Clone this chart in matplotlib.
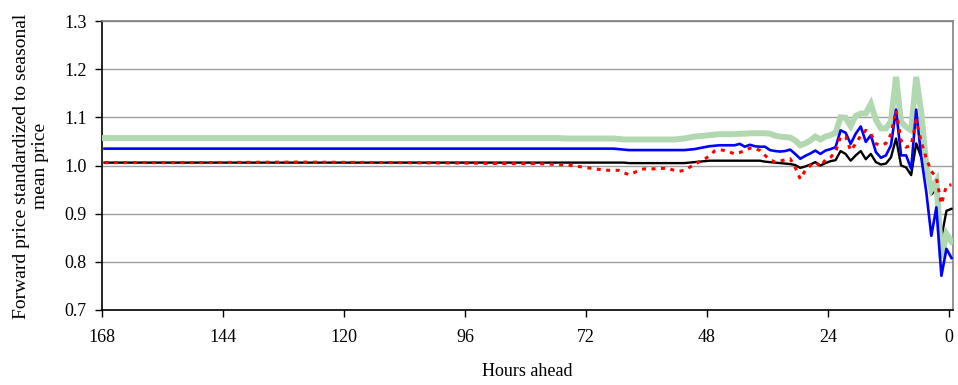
import matplotlib.pyplot as plt
import numpy as np

# hours ahead of delivery (sparse where the curves are flat, hourly near delivery)
HOURS = [168, 150, 130, 110, 96, 88, 82, 78, 76, 74, 72, 70, 69, 68, 67, 66, 65, 64] + list(range(63, -1, -1))

GREEN = [
    1.057, 1.057, 1.057, 1.057, 1.057, 1.057, 1.057, 1.057, 1.056,
    1.056, 1.056, 1.056, 1.056, 1.056, 1.056, 1.055, 1.054, 1.054,
    1.054, 1.054, 1.054, 1.054, 1.054, 1.054, 1.054, 1.054, 1.054, 1.055,
    1.056, 1.058, 1.060, 1.061, 1.062, 1.063, 1.064, 1.065, 1.065, 1.065,
    1.065, 1.066, 1.066, 1.067, 1.067, 1.067, 1.067, 1.066, 1.062, 1.060,
    1.059, 1.058, 1.052, 1.042, 1.046, 1.052, 1.060, 1.054, 1.060, 1.063,
    1.068, 1.100, 1.099, 1.082, 1.103, 1.108, 1.108, 1.128, 1.095, 1.077,
    1.077, 1.092, 1.184, 1.090, 1.080, 1.073, 1.184, 1.110, 1.000, 0.950,
    0.968, 0.808, 0.858, 0.842,
]

BLUE = [
    1.035, 1.035, 1.035, 1.035, 1.035, 1.035, 1.035, 1.035, 1.035,
    1.035, 1.035, 1.035, 1.035, 1.035, 1.035, 1.034, 1.033, 1.032,
    1.032, 1.032, 1.032, 1.032, 1.032, 1.032, 1.032, 1.032, 1.032, 1.032,
    1.032, 1.033, 1.034, 1.036, 1.038, 1.040, 1.041, 1.042, 1.042, 1.042,
    1.042, 1.045, 1.039, 1.043, 1.040, 1.039, 1.039, 1.032, 1.030, 1.029,
    1.030, 1.033, 1.024, 1.014, 1.020, 1.025, 1.031, 1.024, 1.031, 1.034,
    1.038, 1.073, 1.068, 1.045, 1.066, 1.081, 1.049, 1.063, 1.028, 1.016,
    1.021, 1.042, 1.116, 1.021, 1.021, 0.993, 1.116, 1.017, 0.945, 0.854,
    0.913, 0.771, 0.827, 0.808,
]

BLACK = [
    1.006, 1.006, 1.006, 1.006, 1.006, 1.006, 1.006, 1.006, 1.006,
    1.006, 1.006, 1.006, 1.006, 1.006, 1.006, 1.006, 1.006, 1.005,
    1.005, 1.005, 1.005, 1.005, 1.005, 1.005, 1.005, 1.005, 1.005, 1.005,
    1.005, 1.006, 1.007, 1.008, 1.009, 1.010, 1.010, 1.010, 1.010, 1.010,
    1.010, 1.010, 1.010, 1.010, 1.010, 1.010, 1.008, 1.007, 1.006, 1.005,
    1.004, 1.003, 1.001, 0.995, 0.998, 1.002, 1.007, 1.000, 1.005, 1.009,
    1.011, 1.030, 1.024, 1.010, 1.021, 1.030, 1.013, 1.024, 1.007, 1.002,
    1.004, 1.017, 1.056, 1.000, 0.996, 0.980, 1.046, 1.017, 0.990, 0.940,
    0.950, 0.850, 0.906, 0.910,
]

RED = [
    1.006, 1.006, 1.007, 1.006, 1.005, 1.004, 1.004, 1.002, 1.001,
    0.998, 0.995, 0.992, 0.991, 0.990, 0.990, 0.990, 0.985, 0.981,
    0.985, 0.990, 0.993, 0.993, 0.993, 0.994, 0.994, 0.993, 0.990, 0.988,
    0.990, 0.996, 1.002, 1.008, 1.013, 1.020, 1.030, 1.033, 1.031, 1.028,
    1.024, 1.027, 1.031, 1.036, 1.036, 1.031, 1.021, 1.012, 1.007, 1.009,
    1.012, 1.014, 0.996, 0.972, 0.990, 1.000, 1.007, 0.998, 1.012, 1.017,
    1.028, 1.060, 1.060, 1.031, 1.045, 1.062, 1.073, 1.066, 1.045, 1.042,
    1.046, 1.065, 1.115, 1.052, 1.038, 1.042, 1.094, 1.049, 1.015, 0.988,
    0.975, 0.920, 0.958, 0.960,
]

X_TICKS = [168, 144, 120, 96, 72, 48, 24, 0]
Y_TICKS = [0.7, 0.8, 0.9, 1.0, 1.1, 1.2, 1.3]

FONT = "Liberation Serif"
plt.rcParams["font.family"] = FONT

fig = plt.figure(figsize=(9.58, 3.85), dpi=100)
ax = fig.add_axes([102 / 958, 1 - 310 / 385, 851 / 958, 289 / 385])

# points sit in the middle of each hourly category, like the spreadsheet chart
x = np.array(HOURS) - 0.5

ax.plot(x, BLACK, color="black", lw=1.7, zorder=3)
ax.plot(x, GREEN, color="#b2d8b2", lw=4.3, zorder=4, solid_joinstyle="miter")
ax.plot(x, BLUE, color="#0000ff", lw=1.9, zorder=5)
ax.plot(x, RED, color="#ff0000", lw=2.2, ls=(0, (1.3, 1.8)),
        dash_capstyle="butt", zorder=6)

ax.set_xlim(168, -0.8)
ax.set_ylim(0.7, 1.3)
ax.set_xticks(X_TICKS)
ax.set_xticklabels([str(t) for t in X_TICKS])
ax.set_yticks(Y_TICKS)
ax.set_yticklabels([f"{t:.1f}" for t in Y_TICKS])

ax.grid(axis="y", color="#a0a0a0", lw=1.0)
ax.set_axisbelow(True)

for side in ["left", "bottom"]:
    ax.spines[side].set_color("black")
    ax.spines[side].set_linewidth(1.2)
for side in ["top", "right"]:
    ax.spines[side].set_color("#808080")
    ax.spines[side].set_linewidth(1.2)

ax.tick_params(axis="both", direction="out", length=5, width=1.0,
               labelsize=13, colors="black")
ax.tick_params(axis="x", pad=9)
ax.tick_params(axis="y", pad=6)

fig.text(527 / 958, 1 - 372 / 385, "Hours ahead", ha="center", va="center",
         fontsize=13)
fig.text(31 / 958, 1 - 166 / 385,
         "Forward price standardized to seasonal\nmean price",
         ha="center", va="center", rotation=90, fontsize=14,
         multialignment="center", linespacing=1.15)

fig.savefig("out.png", dpi=100)
